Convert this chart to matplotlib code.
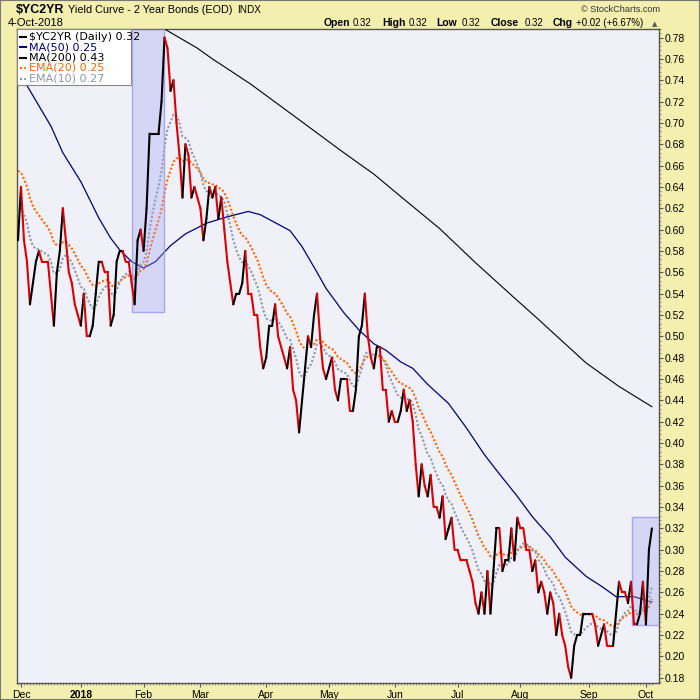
import numpy as np
import pandas as pd
import matplotlib
matplotlib.use("Agg")
import matplotlib.pyplot as plt
from matplotlib.collections import LineCollection
from matplotlib.patches import Rectangle

# $YC2YR daily close, 1-Dec-2017 .. 4-Oct-2018
yc2yr = [0.59, 0.64, 0.59, 0.57, 0.53, 0.55, 0.57, 0.58, 0.57, 0.57,
         0.57, 0.54, 0.51, 0.56, 0.58, 0.62, 0.59, 0.56, 0.55, 0.53,
         0.52, 0.51, 0.54, 0.50, 0.50, 0.51, 0.54, 0.57, 0.57, 0.56,
         0.56, 0.51, 0.52, 0.57, 0.58, 0.58, 0.57, 0.57, 0.55, 0.53,
         0.59, 0.60, 0.58, 0.62, 0.69, 0.69, 0.69, 0.69, 0.72, 0.78,
         0.77, 0.73, 0.74, 0.70, 0.67, 0.63, 0.68, 0.67, 0.63, 0.64,
         0.63, 0.62, 0.59, 0.61, 0.64, 0.63, 0.64, 0.61, 0.63, 0.60,
         0.57, 0.55, 0.53, 0.54, 0.54, 0.55, 0.58, 0.54, 0.54, 0.52,
         0.52, 0.49, 0.47, 0.48, 0.51, 0.51, 0.53, 0.50, 0.49, 0.48,
         0.47, 0.49, 0.45, 0.44, 0.41, 0.44, 0.47, 0.50, 0.49, 0.52,
         0.54, 0.50, 0.47, 0.46, 0.47, 0.48, 0.45, 0.44, 0.46, 0.46,
         0.46, 0.43, 0.43, 0.45, 0.50, 0.51, 0.54, 0.50, 0.48, 0.47,
         0.49, 0.49, 0.45, 0.45, 0.42, 0.43, 0.42, 0.42, 0.43, 0.45,
         0.43, 0.44, 0.42, 0.38, 0.35, 0.38, 0.36, 0.35, 0.37, 0.34,
         0.34, 0.33, 0.35, 0.31, 0.32, 0.33, 0.30, 0.30, 0.29, 0.29,
         0.29, 0.28, 0.27, 0.25, 0.24, 0.26, 0.24, 0.28, 0.24, 0.28,
         0.32, 0.32, 0.28, 0.29, 0.29, 0.32, 0.29, 0.33, 0.32, 0.32,
         0.30, 0.30, 0.28, 0.29, 0.26, 0.27, 0.26, 0.24, 0.26, 0.25,
         0.22, 0.24, 0.22, 0.21, 0.19, 0.18, 0.21, 0.22, 0.22, 0.24,
         0.24, 0.24, 0.24, 0.23, 0.21, 0.22, 0.23, 0.21, 0.21, 0.21,
         0.24, 0.27, 0.26, 0.26, 0.25, 0.27, 0.23, 0.23, 0.24, 0.27,
         0.23, 0.30, 0.32]

holidays = ["2017-12-25", "2018-01-01", "2018-01-15", "2018-02-19",
            "2018-05-28", "2018-07-04", "2018-09-03"]
dates = pd.bdate_range("2017-12-01", "2018-10-04", freq="C", holidays=holidays)

# moving averages sampled at a few trading days
ma50_idx = [0, 3, 7, 11, 15, 21, 27, 31, 34, 38, 42, 46, 51, 56, 63, 70, 77, 81,
            85, 91, 95, 100, 103, 109, 114, 119, 123, 128, 132, 137, 144, 150,
            156, 161, 167, 172, 178, 183, 190, 195, 200, 206, 212]
ma50_val = [0.751, 0.735, 0.716, 0.697, 0.672, 0.645, 0.611, 0.592, 0.581, 0.570,
            0.564, 0.570, 0.585, 0.596, 0.606, 0.612, 0.617, 0.614, 0.608, 0.599,
            0.584, 0.560, 0.545, 0.522, 0.506, 0.493, 0.487, 0.476, 0.470, 0.455,
            0.437, 0.414, 0.389, 0.371, 0.350, 0.331, 0.312, 0.293, 0.275, 0.266,
            0.256, 0.256, 0.251]
ma200_idx = [40, 49, 60, 65, 71, 78, 94, 108, 119, 128, 141, 153, 166, 174, 181,
             190, 201, 212]
ma200_val = [0.806, 0.788, 0.770, 0.760, 0.749, 0.736, 0.703, 0.674, 0.652, 0.631,
             0.601, 0.569, 0.536, 0.516, 0.498, 0.475, 0.453, 0.434]

ema10_start = 0.615
ema20_start = 0.655

month_names = ["Dec", "2018", "Feb", "Mar", "Apr", "May", "Jun", "Jul", "Aug", "Sep", "Oct"]
y_ticks = np.round(np.arange(0.18, 0.785, 0.02), 2)

# shaded boxes: (x0, x1, y0, y1) in trading-day / value units
shade_boxes = [(38.0, 48.9, 0.5225, 0.79), (205.4, 214.5, 0.229, 0.331)]


def ema(values, n, start):
    k = 2.0 / (n + 1)
    out = [start]
    for v in values[1:]:
        out.append(out[-1] + k * (v - out[-1]))
    return np.array(out)


plt.rcParams["font.family"] = ["Liberation Sans", "DejaVu Sans"]

W, H = 700, 700
YELLOW = "#F3EFAE"
fig = plt.figure(figsize=(7, 7), dpi=100, facecolor=YELLOW)
ax = fig.add_axes([16.5 / W, 1 - 683 / H, 642 / W, 654 / H], facecolor="#F0F0F8")


def px(x, y):
    return x / W, 1 - y / H


n = len(yc2yr)
xs = np.arange(n)
ys = np.array(yc2yr)
ema10 = ema(ys, 10, ema10_start)
ema20 = ema(ys, 20, ema20_start)

# moving averages (under the legend)
ax.plot(ma200_idx, ma200_val, color="black", lw=0.8, zorder=3)
ax.plot(ma50_idx, ma50_val, color="#000080", lw=0.9, zorder=3)
ax.plot(xs, ema20, color="#FF6600", lw=1.5, ls=(0, (1, 1)), zorder=3)
ax.plot(xs, ema10, color="#8A98A6", lw=1.5, ls=(0, (1, 1)), zorder=3)

# shaded boxes
for x0, x1, y0, y1 in shade_boxes:
    ax.add_patch(Rectangle((x0, y0), x1 - x0, y1 - y0, facecolor=(0.63, 0.63, 0.94, 0.34),
                           edgecolor=(0.6, 0.6, 0.93, 0.8), lw=1, zorder=6))

# price line, red on down days, black on up days
segs, cols = [], []
col = "black"
for i in range(n - 1):
    if ys[i + 1] > ys[i]:
        col = "black"
    elif ys[i + 1] < ys[i]:
        col = "#DD0000"
    segs.append([(xs[i], ys[i]), (xs[i + 1], ys[i + 1])])
    cols.append(col)
ax.add_collection(LineCollection(segs, colors=cols, linewidths=1.5, capstyle="round",
                                 joinstyle="round", zorder=7))

ax.set_xlim(-0.5, 214.2)
ax.set_ylim(0.1751, 0.7875)

# axes
month_pos = [0] + [i for i in range(1, n) if dates[i].month != dates[i - 1].month]
ax.set_xticks(np.array(month_pos) + 1)
ax.set_xticklabels(month_names)
ax.get_xticklabels()[1].set_fontweight("bold")
ax.set_xticks(xs, minor=True)
ax.yaxis.tick_right()
ax.set_yticks(y_ticks)
ax.set_yticklabels(["%.2f" % v for v in y_ticks])
ax.set_yticks(np.arange(0.176, 0.788, 0.004), minor=True)
ax.tick_params(axis="both", which="major", length=3, width=0.8, color="#555555",
               labelsize=7.5, labelcolor="black")
ax.tick_params(axis="x", which="major", pad=2)
ax.tick_params(axis="y", which="major", pad=1.5)
ax.tick_params(axis="both", which="minor", length=1.5, width=0.6, color="#777777")
for s in ax.spines.values():
    s.set_color("#555555")
    s.set_linewidth(1)

# legend box
ax.add_patch(Rectangle(px(16.5, 85), 114 / W, 56 / H, transform=fig.transFigure,
                       facecolor="white", edgecolor="#888888", lw=0.8, zorder=5,
                       clip_on=False))
legend_rows = [("$YC2YR (Daily) 0.32", "black", "-"),
               ("MA(50) 0.25", "#000080", "-"),
               ("MA(200) 0.43", "black", "-"),
               ("EMA(20) 0.25", "#FF6600", ":"),
               ("EMA(10) 0.27", "#8A98A6", ":")]
for k, (label, c, style) in enumerate(legend_rows):
    yy = 36.5 + k * 10.5
    ax.plot([px(20, yy)[0], px(26, yy)[0]], [px(20, yy)[1]] * 2, transform=fig.transFigure,
            color=c, lw=1.5, ls="-" if style == "-" else (0, (1, 1)), clip_on=False, zorder=8)
    ax.text(*px(29, yy), label, transform=fig.transFigure, color=c, fontsize=8,
            family="DejaVu Sans", va="center", ha="left", zorder=8, clip_on=False)

# header
fig.text(*px(15.5, 13), "$YC2YR", fontsize=9, fontweight="bold", va="baseline")
fig.text(*px(68, 13), "Yield Curve - 2 Year Bonds (EOD)", fontsize=7.8, va="baseline")
fig.text(*px(237, 13), "INDX", fontsize=7.2, va="baseline")
fig.text(*px(660, 12), "\u00a9 StockCharts.com", fontsize=6.6, ha="right", va="baseline",
         color="#333333")
fig.text(*px(8, 26), "4-Oct-2018", fontsize=8, va="baseline")
header2 = [(324, "Open", True), (353, "0.32", False), (382, "High", True),
           (409, "0.32", False), (436, "Low", True), (462, "0.32", False),
           (491, "Close", True), (525, "0.32", False), (553, "Chg", True),
           (576, "+0.02 (+6.67%)", False)]
for x, t, b in header2:
    fig.text(*px(x, 26), t, fontsize=7.5 if b else 7, fontweight="bold" if b else "normal",
             va="baseline")
fig.text(*px(652, 26), "\u25b2", fontsize=5, family="DejaVu Sans", va="baseline",
         color="#555555")

fig.add_artist(Rectangle((0, 0), 1, 1, transform=fig.transFigure, fill=False,
                         edgecolor="#777777", lw=1.5))

fig.savefig("out.png", dpi=100, facecolor=fig.get_facecolor())
